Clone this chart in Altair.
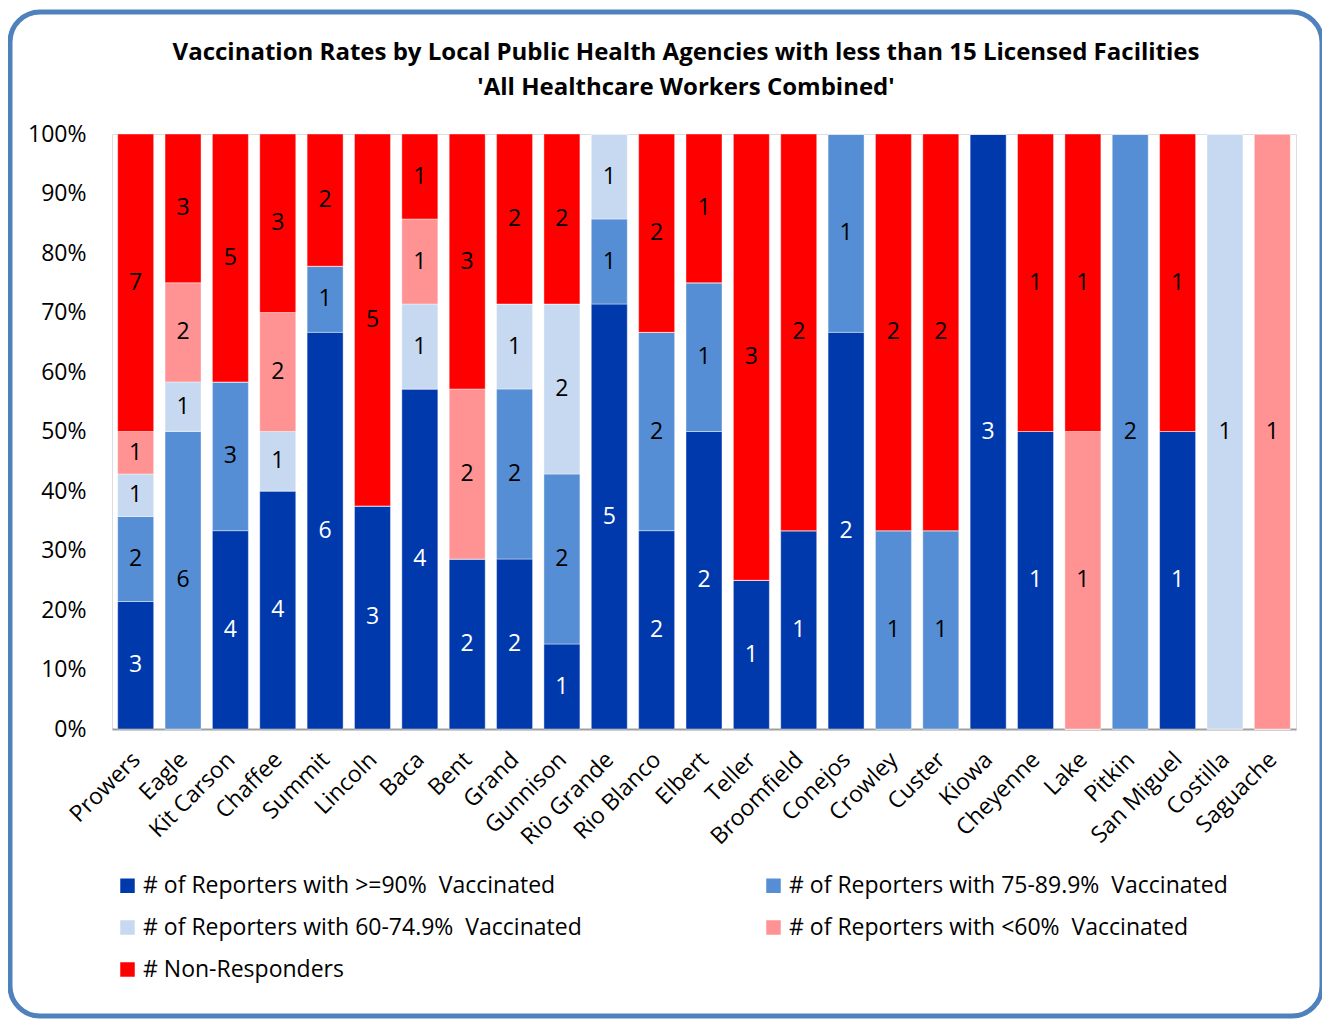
import altair as alt
import pandas as pd

counties = ["Prowers", "Eagle", "Kit Carson", "Chaffee", "Summit", "Lincoln", "Baca", "Bent",
            "Grand", "Gunnison", "Rio Grande", "Rio Blanco", "Elbert", "Teller", "Broomfield",
            "Conejos", "Crowley", "Custer", "Kiowa", "Cheyenne", "Lake", "Pitkin", "San Miguel",
            "Costilla", "Saguache"]
s90 = [3, 0, 4, 4, 6, 3, 4, 2, 2, 1, 5, 2, 2, 1, 1, 2, 0, 0, 3, 1, 0, 0, 1, 0, 0]
s75 = [2, 6, 3, 0, 1, 0, 0, 0, 2, 2, 1, 2, 1, 0, 0, 1, 1, 1, 0, 0, 0, 2, 0, 0, 0]
s60 = [1, 1, 0, 1, 0, 0, 1, 0, 1, 2, 1, 0, 0, 0, 0, 0, 0, 0, 0, 0, 0, 0, 0, 1, 0]
s_lt60 = [1, 2, 0, 2, 0, 0, 1, 2, 0, 0, 0, 0, 0, 0, 0, 0, 0, 0, 0, 0, 1, 0, 0, 0, 1]
s_nr = [7, 3, 5, 3, 2, 5, 1, 3, 2, 2, 0, 2, 1, 3, 2, 0, 2, 2, 0, 1, 1, 0, 1, 0, 0]

series_names = [
    "# of Reporters with >=90%\u00a0 Vaccinated",
    "# of Reporters with 75-89.9%\u00a0 Vaccinated",
    "# of Reporters with 60-74.9%\u00a0 Vaccinated",
    "# of Reporters with <60%\u00a0 Vaccinated",
    "# Non-Responders",
]
series_values = [s90, s75, s60, s_lt60, s_nr]
colors = ["#0039AC", "#558ED5", "#C6D9F1", "#FF9393", "#FF0000"]

# legend is laid out column by column: reorder so it reads row by row like the original
legend_order = [0, 2, 4, 1, 3]
legend_domain = [series_names[i] for i in legend_order]
legend_range = [colors[i] for i in legend_order]

rows = []
for si, (name, vals) in enumerate(zip(series_names, series_values)):
    for c, v in zip(counties, vals):
        rows.append({"county": c, "series": name, "order": si, "value": v})
df = pd.DataFrame(rows)

FONT = "Open Sans"
FS = 23
W, H = 1184, 595

base = alt.Chart(df).transform_stack(
    stack="value", as_=["y0", "y1"], groupby=["county"],
    sort=[alt.SortField("order", order="ascending")], offset="normalize"
)

xenc = alt.X("county:N", sort=counties, title=None,
             scale=alt.Scale(paddingInner=0.24, paddingOuter=0.12),
             axis=alt.Axis(labelAngle=-45, labelFontSize=FS, labelFont=FONT, ticks=False,
                           domainColor="#A0A0A0", domainWidth=2, labelPadding=19,
                           labelOffset=-7, labelColor="#000000"))

bars = base.mark_bar(stroke="#FFFFFF", strokeOpacity=0.4, strokeWidth=1).encode(
    x=xenc,
    y=alt.Y("y0:Q", title=None, scale=alt.Scale(domain=[0, 1], nice=False),
            axis=alt.Axis(format=".0%", values=[i / 10 for i in range(11)], grid=False,
                          domain=False, ticks=False, labelFontSize=FS, labelFont=FONT,
                          labelPadding=26, labelColor="#000000")),
    y2="y1:Q",
    color=alt.Color("series:N",
                    scale=alt.Scale(domain=legend_domain, range=legend_range),
                    legend=alt.Legend(title=None, orient="none", legendX=4, legendY=740,
                                      columns=2, columnPadding=180, rowPadding=18,
                                      symbolType="square", symbolSize=210,
                                      symbolStrokeWidth=0, labelFontSize=FS,
                                      labelFont=FONT, labelLimit=700, labelOffset=4,
                                      labelColor="#000000")),
)

labels = base.transform_filter("datum.value > 0").transform_calculate(
    mid="(datum.y0 + datum.y1) / 2",
).mark_text(fontSize=FS, font=FONT).encode(
    x=alt.X("county:N", sort=counties),
    y=alt.Y("mid:Q"),
    text=alt.Text("value:Q"),
    color=alt.condition("datum.order == 0", alt.value("#FFFFFF"), alt.value("#000000")),
)

frame = alt.Chart(pd.DataFrame({"a": [0]})).mark_rect(
    fill=None, stroke="#4F81BD", strokeWidth=5, cornerRadius=30, clip=False
).encode(x=alt.value(-102), x2=alt.value(1210), y=alt.value(-122), y2=alt.value(882))

chart = alt.layer(frame, bars, labels).properties(
    width=W, height=H,
    title=alt.TitleParams(
        ["Vaccination Rates by Local Public Health Agencies with less than 15 Licensed Facilities",
         "'All Healthcare Workers Combined'"],
        font=FONT, fontSize=24, fontWeight="bold", anchor="middle", offset=-90,
        lineHeight=35, dx=-18, color="#000000"),
    autosize=alt.AutoSizeParams(type="none"),
    padding={"left": 104, "top": 126, "right": 26, "bottom": 293},
).configure_view(stroke=None).configure(background="#FFFFFF")

chart.save("out.html", embed_options={"renderer": "svg", "actions": False})
